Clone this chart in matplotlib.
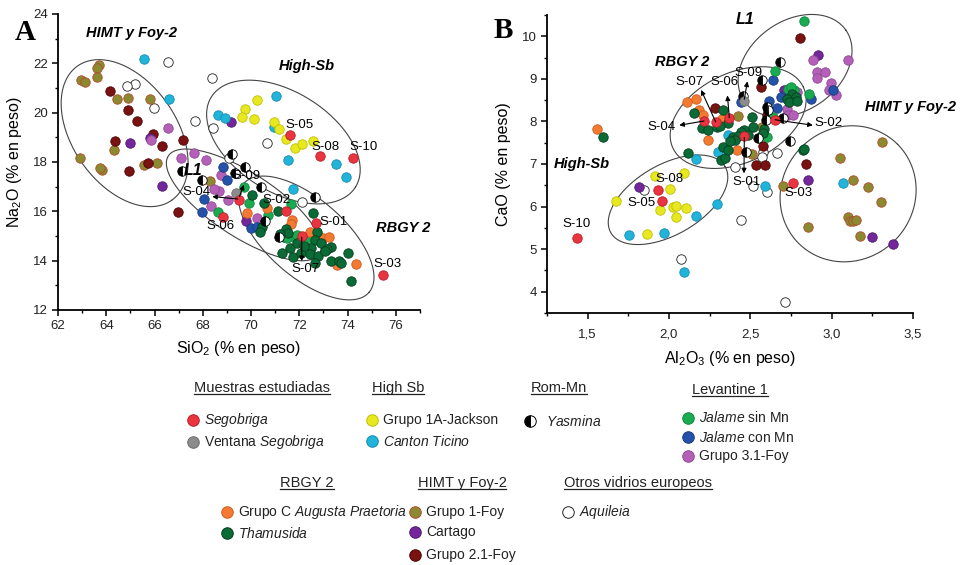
import matplotlib
matplotlib.use('Agg')
import matplotlib.pyplot as plt
from matplotlib.lines import Line2D
from matplotlib.ticker import MultipleLocator, FuncFormatter
import numpy as np

plt.rcParams['font.family'] = ['Liberation Sans', 'DejaVu Sans']
plt.rcParams['mathtext.fontset'] = 'custom'
plt.rcParams['mathtext.rm'] = 'Liberation Sans'
plt.rcParams['mathtext.it'] = 'Liberation Sans:italic'
plt.rcParams['mathtext.bf'] = 'Liberation Sans:bold'

# ---- data: panel A (SiO2, Na2O) and panel B (Al2O3, CaO) ----
segobriga_A = [(71.63, 19.11), (72.85, 18.24), (74.23, 18.16), (69.52, 16.46), (68.83, 15.78),
               (71.45, 16.02), (72.71, 15.51), (72.10, 15.00), (75.46, 13.42)]
segobriga_B = [(1.432, 5.26), (1.934, 6.39), (1.955, 6.14), (2.287, 7.99), (2.215, 8.01),
               (2.371, 8.09), (2.652, 8.04), (2.463, 7.65), (2.761, 6.55)]
ventana_A = [(69.38, 16.76)]
ventana_B = [(2.463, 8.47)]
jackson_A = [(70.23, 20.50), (69.76, 20.13), (69.61, 19.82), (70.12, 19.74), (70.93, 19.61),
             (71.14, 19.35), (71.45, 18.92), (71.82, 18.58), (72.12, 18.73), (72.58, 18.86)]
jackson_B = [(1.674, 6.12), (1.912, 6.72), (2.006, 6.41), (2.092, 6.79), (1.945, 5.91),
             (2.022, 6.00), (2.040, 6.02), (2.103, 5.96), (2.043, 5.75), (1.863, 5.35)]
ticino_A = [(65.58, 22.16), (66.61, 20.54), (68.64, 19.89), (68.91, 19.78), (71.05, 20.67),
            (70.93, 19.40), (71.52, 18.08), (73.52, 17.92), (73.93, 17.40), (71.75, 16.89)]
ticino_B = [(1.756, 5.34), (1.971, 5.38), (2.166, 5.77), (2.293, 6.06), (2.166, 7.11),
            (2.094, 4.47), (2.593, 6.49), (3.072, 6.55), (2.303, 7.29), (2.363, 7.69)]
yasmina_A = [(67.14, 17.63), (67.98, 17.27), (69.19, 18.31), (69.74, 17.81), (70.40, 17.00),
             (72.64, 16.57), (69.33, 17.54), (70.59, 15.61), (71.14, 14.97)]
yasmina_B = [(2.683, 9.39), (2.570, 8.98), (2.453, 8.59), (2.601, 8.35), (2.611, 8.26),
             (2.597, 8.03), (2.703, 8.09), (2.550, 7.61), (2.745, 7.53), (2.474, 7.29)]
jalame_sin_A = [(68.64, 15.99), (69.72, 16.97), (69.90, 16.35), (70.70, 15.85), (71.66, 16.30),
                (71.78, 14.95), (71.92, 15.04), (72.34, 14.81), (71.50, 14.90)]
jalame_sin_B = [(2.832, 10.35), (2.652, 9.18), (2.863, 8.65), (2.734, 8.77), (2.770, 8.73),
                (2.642, 8.10), (2.601, 7.64), (2.750, 8.80)]
jalame_con_A = [(68.83, 17.81), (69.02, 17.27), (68.05, 16.49), (67.98, 15.99), (70.01, 15.32),
                (70.26, 15.38), (71.36, 14.97)]
jalame_con_B = [(2.642, 8.98), (2.441, 8.45), (3.010, 8.74), (2.873, 8.53), (2.687, 8.57),
                (2.617, 8.49), (2.662, 8.32)]
foy31_A = [(66.54, 19.39), (65.86, 18.88), (67.09, 18.17), (67.65, 18.38), (68.12, 18.08),
           (68.74, 17.47), (68.67, 16.84), (68.48, 16.89), (69.05, 16.46), (68.32, 16.22),
           (70.24, 15.72)]
foy31_B = [(2.884, 9.45), (3.103, 9.45), (2.908, 9.17), (2.961, 9.15), (2.912, 9.02),
           (2.994, 8.91), (2.984, 8.74), (3.027, 8.63), (2.789, 8.69), (2.724, 8.30),
           (2.734, 8.14), (2.765, 8.14)]
augusta_A = [(69.85, 15.92), (70.67, 16.12), (71.68, 15.65), (71.66, 15.49), (72.44, 15.17),
             (72.99, 14.91), (73.22, 14.97), (73.56, 13.82), (74.33, 13.86)]
augusta_B = [(1.559, 7.83), (2.112, 8.45), (2.164, 8.53), (2.186, 8.28), (2.211, 8.14),
             (2.328, 8.05), (2.242, 7.56), (2.416, 7.34)]
thamusida_A = [(70.04, 16.66), (70.52, 16.32), (71.10, 16.03), (72.58, 15.94), (70.45, 15.38),
               (70.38, 15.17), (71.45, 15.27), (71.55, 15.11), (72.75, 15.15), (72.65, 14.84),
               (72.91, 14.70), (72.50, 14.50), (73.33, 14.54), (73.14, 14.46), (71.62, 14.50),
               (71.30, 14.30), (71.72, 14.14), (72.07, 14.30), (72.44, 14.27), (72.78, 14.19),
               (73.06, 14.40), (73.30, 13.99), (73.65, 14.00), (73.72, 13.89), (74.02, 14.32),
               (74.13, 13.19), (72.65, 13.92), (71.20, 15.10), (71.90, 14.70), (72.20, 14.60)]
thamusida_B = [(1.596, 7.64), (2.115, 7.25), (2.318, 7.09), (2.344, 7.13), (2.154, 8.20),
               (2.334, 8.28), (2.361, 7.96), (2.201, 7.85), (2.242, 7.81), (2.293, 7.87),
               (2.314, 7.89), (2.392, 7.64), (2.334, 7.40), (2.361, 7.34), (2.826, 7.32),
               (2.754, 8.65), (2.781, 8.57), (2.724, 8.53), (2.740, 8.45), (2.785, 8.49),
               (2.585, 7.83), (2.580, 7.73), (2.519, 7.87), (2.509, 8.10), (2.463, 7.79),
               (2.443, 7.75), (2.488, 7.68), (2.422, 7.65), (2.406, 7.56), (2.375, 7.54),
               (2.831, 7.36)]
foy1_A = [(63.70, 21.93), (63.62, 21.80), (63.60, 21.43), (62.97, 21.32), (63.12, 21.24),
          (64.46, 20.54), (64.92, 20.59), (65.80, 20.54), (64.32, 18.47), (62.91, 18.17),
          (65.55, 17.88), (66.12, 17.96), (63.84, 17.69), (63.75, 17.74), (68.31, 17.23)]
foy1_B = [(2.703, 6.49), (2.853, 5.53), (3.052, 7.13), (3.133, 6.62), (3.221, 6.45),
          (3.304, 6.10), (3.099, 5.75), (3.113, 5.65), (3.130, 5.67), (3.148, 5.69),
          (3.175, 5.30), (2.512, 7.23), (2.422, 8.12), (2.570, 7.87), (3.312, 7.52)]
cartago_A = [(69.17, 19.61), (65.80, 18.98), (65.00, 18.78), (66.33, 17.04), (69.79, 15.61)]
cartago_B = [(1.815, 6.45), (2.853, 6.62), (3.250, 5.28), (3.376, 5.13), (2.915, 9.56),
             (2.707, 8.73)]
foy21_A = [(64.14, 20.88), (64.88, 20.11), (65.28, 19.66), (65.95, 19.15), (64.37, 18.85),
           (66.29, 18.65), (67.19, 18.88), (65.73, 17.95), (64.95, 17.62), (66.97, 15.96)]
foy21_B = [(2.806, 9.96), (2.283, 8.31), (2.564, 8.82), (2.601, 8.14), (2.580, 7.42),
           (2.533, 6.97), (2.590, 6.97), (2.843, 7.00)]
aquileia_A = [(66.55, 22.07), (68.39, 21.42), (65.17, 21.16), (64.84, 21.08), (65.99, 20.20),
              (67.67, 19.67), (68.42, 19.37), (69.08, 18.15), (70.65, 18.76), (72.09, 16.37)]
aquileia_B = [(1.844, 6.39), (2.074, 4.78), (2.443, 5.69), (2.714, 3.77), (2.515, 6.48),
              (2.601, 6.35), (2.406, 6.93), (2.580, 7.29), (2.662, 7.26), (2.570, 7.17)]

# sample labels (text position) and arrows (from, to)
labels_A = {'S-05': (72.0, 19.5), 'S-08': (73.1, 18.59), 'S-10': (74.65, 18.59),
            'S-09': (69.8, 17.43), 'S-04': (67.75, 16.8), 'S-02': (71.07, 16.46),
            'S-01': (73.4, 15.58), 'S-06': (68.74, 15.4), 'S-07': (72.24, 13.65),
            'S-03': (75.66, 13.86)}
arrows_A = [((69.45, 16.50), (68.39, 16.60)), ((69.52, 16.60), (69.70, 17.08)),
            ((72.10, 14.95), (72.10, 13.98))]
labels_B = {'S-07': (2.129, 8.92), 'S-06': (2.340, 8.92), 'S-09': (2.488, 9.13),
            'S-04': (1.955, 7.87), 'S-02': (2.98, 7.96), 'S-01': (2.474, 6.58),
            'S-03': (2.795, 6.33), 'S-08': (2.002, 6.65), 'S-05': (1.832, 6.09),
            'S-10': (1.432, 5.60)}
arrows_B = [((2.287, 7.99), (2.197, 8.74)), ((2.371, 8.09), (2.359, 8.61)),
            ((2.463, 8.52), (2.482, 8.94)), ((2.215, 8.01), (2.063, 7.91)),
            ((2.652, 8.04), (2.884, 7.91)), ((2.463, 7.62), (2.461, 6.78))]
groups_A = {'HIMT y Foy-2': (65.05, 23.23), 'High-Sb': (72.29, 21.89), 'RBGY 2': (76.3, 15.32),
            'L1': (67.6, 17.67)}
groups_B = {'RBGY 2': (2.078, 9.39), 'L1': (2.468, 10.40), 'HIMT y Foy-2': (3.487, 8.35),
            'High-Sb': (1.465, 7.01)}
# ellipses: centre (data), semi axes (px), angle (deg)
ellipses_A = [((64.76, 19.17), 82, 52, -55), ((71.34, 18.81), 85, 50, -32),
              ((69.70, 16.26), 90, 32, -33), ((72.29, 14.92), 83, 39, -41)]
ellipses_B = [((2.775, 9.31), 62, 45, 35), ((2.425, 8.09), 72, 45, 25),
              ((1.994, 6.16), 66, 35, 30), ((3.101, 6.30), 70, 66, 45)]

MS = 6.8
styles = {
    'aq': dict(mfc='white', mec='#222222'),
    'f1': dict(mfc='#8b8a30', mec='#b04a2a'),
    'f21': dict(mfc='#7a1212', mec='#4a0606'),
    'car': dict(mfc='#73279a', mec='#4e1a6e'),
    'f31': dict(mfc='#b45fb8', mec='#8e4a94'),
    'tic': dict(mfc='#20b4d8', mec='#178ab0'),
    'jack': dict(mfc='#e8e820', mec='#c0c000'),
    'jcon': dict(mfc='#2452a8', mec='#183a80'),
    'jsin': dict(mfc='#1aab52', mec='#10883c'),
    'aug': dict(mfc='#f47a32', mec='#d05a1e'),
    'tham': dict(mfc='#0b6b36', mec='#053f1f'),
    'yas': dict(mfc='black', markerfacecoloralt='white', fillstyle='left', mec='black'),
    'ven': dict(mfc='#8c8c8c', mec='#6a6a6a'),
    'seg': dict(mfc='#ea3440', mec='#b82028'),
}
order_A = [('aq', aquileia_A), ('f1', foy1_A), ('f21', foy21_A), ('car', cartago_A),
           ('f31', foy31_A), ('tic', ticino_A), ('jack', jackson_A), ('jcon', jalame_con_A),
           ('jsin', jalame_sin_A), ('aug', augusta_A), ('tham', thamusida_A),
           ('yas', yasmina_A), ('ven', ventana_A), ('seg', segobriga_A)]
order_B = [('aq', aquileia_B), ('f1', foy1_B), ('f21', foy21_B), ('car', cartago_B),
           ('f31', foy31_B), ('tic', ticino_B), ('jack', jackson_B), ('jcon', jalame_con_B),
           ('jsin', jalame_sin_B), ('aug', augusta_B), ('tham', thamusida_B),
           ('yas', yasmina_B), ('ven', ventana_B), ('seg', segobriga_B)]

W, H = 960, 565
fig = plt.figure(figsize=(W / 100, H / 100), dpi=100)
axA = fig.add_axes([58 / W, 1 - 310 / H, 362 / W, 296 / H])
axB = fig.add_axes([547 / W, 1 - 313 / H, 366 / W, 298 / H])

axA.set_xlim(62, 77)
axA.set_ylim(12, 24)
axB.set_xlim(1.25, 3.5)
axB.set_ylim(3.5, 10.5)


def setup(ax, xmaj, xmin, ymaj, ymin):
    for s in ['top', 'right']:
        ax.spines[s].set_visible(False)
    for s in ['left', 'bottom']:
        ax.spines[s].set_linewidth(1.3)
    ax.xaxis.set_major_locator(MultipleLocator(xmaj))
    ax.xaxis.set_minor_locator(MultipleLocator(xmin))
    ax.yaxis.set_major_locator(MultipleLocator(ymaj))
    ax.yaxis.set_minor_locator(MultipleLocator(ymin))
    ax.tick_params(which='major', direction='out', length=4, width=1.1, labelsize=9.5,
                   labelcolor='#222222')
    ax.tick_params(which='minor', direction='out', length=2.5, width=1)


setup(axA, 2, 1, 2, 1)
setup(axB, 0.5, 0.25, 1, 0.5)
axB.xaxis.set_major_formatter(FuncFormatter(lambda v, p: ('%.1f' % v).replace('.', ',')))
axB.tick_params(axis='x', which='major', pad=7)

axA.set_xlabel('SiO$_2$ (% en peso)', fontsize=11.5, labelpad=5)
axA.set_ylabel('Na$_2$O (% en peso)', fontsize=11.5, labelpad=6)
axB.set_xlabel('Al$_2$O$_3$ (% en peso)', fontsize=11.5, labelpad=6)
axB.set_ylabel('CaO (% en peso)', fontsize=11.5, labelpad=8)


def draw_ellipse(ax, center, a, b, angle):
    cx, cy = ax.transData.transform(center)
    t = np.linspace(0, 2 * np.pi, 240)
    th = np.radians(angle)
    ex, ey = a * np.cos(t), b * np.sin(t)
    px = cx + ex * np.cos(th) - ey * np.sin(th)
    py = cy + ex * np.sin(th) + ey * np.cos(th)
    pts = ax.transData.inverted().transform(np.column_stack([px, py]))
    ax.plot(pts[:, 0], pts[:, 1], color='#444444', lw=0.8, clip_on=False, zorder=1)


for ax, ells, order, labels, arrows, groups in [
        (axA, ellipses_A, order_A, labels_A, arrows_A, groups_A),
        (axB, ellipses_B, order_B, labels_B, arrows_B, groups_B)]:
    for e in ells:
        draw_ellipse(ax, *e)
    for key, pts in order:
        ax.plot([p[0] for p in pts], [p[1] for p in pts], linestyle='none', marker='o',
                ms=MS, mew=0.6, clip_on=False, zorder=3, **styles[key])
    for name, (x, y) in labels.items():
        ax.text(x, y, name, fontsize=9.5, ha='center', va='center', zorder=5)
    for (x0, y0), (x1, y1) in arrows:
        ax.annotate('', xy=(x1, y1), xytext=(x0, y0), zorder=4,
                    arrowprops=dict(arrowstyle='-|>', color='black', lw=0.8,
                                    mutation_scale=7, shrinkA=0, shrinkB=0))
    for name, (x, y) in groups.items():
        ax.text(x, y, name, fontsize=10.5 if name != 'L1' else 11.5, fontweight='bold',
                fontstyle='italic', ha='center', va='center', zorder=5)

fig.text(25 / W, 1 - 33 / H, 'A', fontsize=21, fontweight='bold', family='Liberation Serif',
         ha='center', va='center')
fig.text(503 / W, 1 - 31 / H, 'B', fontsize=21, fontweight='bold', family='Liberation Serif',
         ha='center', va='center')

# ---- legend ----
legend_heads = [('Muestras estudiadas', 262, 388), ('High Sb', 398, 388), ('Rom-Mn', 559, 388),
                ('Levantine 1', 730, 390), ('RBGY 2', 307, 483), ('HIMT y Foy-2', 462, 483),
                ('Otros vidrios europeos', 638, 483)]
legend_items = [('seg', r'$\mathit{Segobriga}$', 193, 420),
                ('ven', r'Ventana $\mathit{Segobriga}$', 193, 442),
                ('jack', 'Grupo 1A-Jackson', 372, 420),
                ('tic', r'$\mathit{Canton\ Ticino}$', 372, 441),
                ('yas', r'$\mathit{Yasmina}$', 530, 421),
                ('jsin', r'$\mathit{Jalame}$ sin Mn', 688, 418),
                ('jcon', r'$\mathit{Jalame}$ con Mn', 688, 437),
                ('f31', 'Grupo 3.1-Foy', 688, 456),
                ('aug', r'Grupo C $\mathit{Augusta\ Praetoria}$', 227, 512),
                ('tham', r'$\mathit{Thamusida}$', 227, 533),
                ('f1', 'Grupo 1-Foy', 415, 512),
                ('car', 'Cartago', 415, 532),
                ('f21', 'Grupo 2.1-Foy', 415, 555),
                ('aq', r'$\mathit{Aquileia}$', 568, 512)]

heads = []
for text, x, y in legend_heads:
    heads.append(fig.text(x / W, 1 - y / H, text, fontsize=10.5, ha='center', va='center',
                          color='#222222'))
for key, text, x, y in legend_items:
    st = dict(styles[key])
    fig.add_artist(Line2D([x / W], [1 - y / H], marker='o', ms=MS + 1.5, mew=0.7,
                          linestyle='none', transform=fig.transFigure, **st))
    off = 16 if key == 'yas' else 11
    fig.text((x + off) / W, 1 - y / H, text, fontsize=10, ha='left', va='center',
             color='#222222')

fig.canvas.draw()
renderer = fig.canvas.get_renderer()
for t in heads:
    bb = t.get_window_extent(renderer)
    yline = (bb.y0 + 1) / H
    fig.add_artist(Line2D([bb.x0 / W, bb.x1 / W], [yline, yline], color='#222222', lw=0.9,
                          transform=fig.transFigure))

fig.savefig('out.png', dpi=100)
